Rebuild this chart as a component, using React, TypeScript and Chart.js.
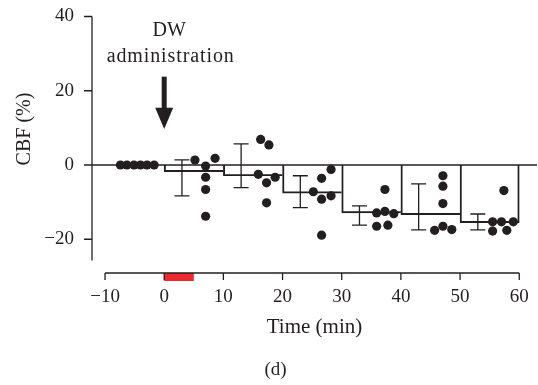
import { useEffect, useRef } from "react";
import { Chart, registerables } from "chart.js";

Chart.register(...registerables);

// ---- data ----
const xTicks = [-10, 0, 10, 20, 30, 40, 50, 60];
const yTicks = [-20, 0, 20, 40];

// baseline recordings before administration
const baselineTimes = [-7.4, -6.3, -5.1, -4.0, -2.9, -1.7];
const baselineValues = [0, 0, 0, 0, 0, 0];

// 10-min bins: open bars (mean)
const binStarts = [0, 10, 20, 30, 40, 50];
const binWidth = 10;
const binMeans = [-1.8, -2.9, -7.6, -12.9, -13.4, -15.5];

// error bars
const errTimes = [3, 13, 23, 33, 43, 53];
const errHigh = [1.4, 5.7, -2.9, -11.0, -5.1, -13.2];
const errLow = [-8.3, -6.1, -11.5, -16.2, -17.5, -17.5];

// individual animals per bin
const bin1Times = [5.2, 8.6, 7.0, 7.0, 7.0, 7.0];
const bin1Values = [1.35, 1.8, -0.3, -3.3, -6.6, -13.8];
const bin2Times = [16.3, 17.7, 15.9, 17.3, 18.75, 17.3];
const bin2Values = [6.9, 5.4, -2.5, -4.8, -3.3, -10.2];
const bin3Times = [28.2, 26.6, 25.2, 26.6, 28.2, 26.6];
const bin3Values = [-1.2, -3.6, -7.2, -9.2, -8.3, -18.9];
const bin4Times = [37.3, 35.9, 37.3, 38.8, 35.9, 37.8];
const bin4Values = [-6.6, -12.9, -12.5, -13.1, -16.5, -16.2];
const bin5Times = [47.1, 47.1, 47.1, 45.7, 47.1, 48.6];
const bin5Values = [-2.9, -5.7, -10.4, -17.6, -16.5, -17.4];
const bin6Times = [57.4, 55.5, 57.0, 59.0, 55.5, 57.9];
const bin6Values = [-6.9, -15.3, -15.3, -15.3, -17.8, -17.6];

// DW administration period (red bar) and arrow
const adminStart = 0;
const adminEnd = 5;
const arrowTime = 0;
const arrowTop = 23.8;
const arrowHeadStart = 15.4;
const arrowTip = 9.7;

// axis extents
const xMin = -12.2;
const xMax = 63.0;
const yMin = -29.09;
const yMax = 40;
const yAxisBottom = -25.7;

const INK = "#231f20";
const RED = "#ec2a2e";
const FONT = "'Liberation Serif', 'Times New Roman', serif";

const fmt = (v: number) => (v < 0 ? "\u2212" + Math.abs(v) : String(v));

const pairs = (xs: number[], ys: number[]) => xs.map((x, i) => ({ x, y: ys[i] }));

const zeroPad = (s: any) => {
  s.paddingTop = 0;
  s.paddingBottom = 0;
  s.paddingLeft = 0;
  s.paddingRight = 0;
};

const decorPlugin = {
  id: "decor",
  beforeDatasetsDraw(chart: any) {
    const { ctx, chartArea, scales } = chart;
    const xs = scales.x;
    const ys = scales.y;
    ctx.save();
    ctx.strokeStyle = INK;
    ctx.lineWidth = 1.3;
    // y axis
    const ax = chartArea.left;
    ctx.beginPath();
    ctx.moveTo(ax, ys.getPixelForValue(yMax));
    ctx.lineTo(ax, ys.getPixelForValue(yAxisBottom));
    for (const t of yTicks) {
      const py = ys.getPixelForValue(t);
      ctx.moveTo(ax - 8, py);
      ctx.lineTo(ax, py);
    }
    ctx.stroke();
    // zero line
    ctx.beginPath();
    ctx.moveTo(chartArea.left, ys.getPixelForValue(0));
    ctx.lineTo(chartArea.right, ys.getPixelForValue(0));
    ctx.stroke();
    // red administration bar
    const by = chartArea.bottom;
    ctx.fillStyle = RED;
    const rx0 = xs.getPixelForValue(adminStart);
    const rx1 = xs.getPixelForValue(adminEnd);
    ctx.fillRect(rx0, by, rx1 - rx0, 8);
    // x axis
    ctx.beginPath();
    ctx.moveTo(xs.getPixelForValue(xTicks[0]), by);
    ctx.lineTo(xs.getPixelForValue(xTicks[xTicks.length - 1]), by);
    for (const t of xTicks) {
      const px = xs.getPixelForValue(t);
      ctx.moveTo(px, by);
      ctx.lineTo(px, by + 7);
    }
    ctx.stroke();
    // error bars
    ctx.beginPath();
    errTimes.forEach((t, i) => {
      const px = xs.getPixelForValue(t);
      const hi = ys.getPixelForValue(errHigh[i]);
      const lo = ys.getPixelForValue(errLow[i]);
      ctx.moveTo(px, hi);
      ctx.lineTo(px, lo);
      ctx.moveTo(px - 7.5, hi);
      ctx.lineTo(px + 7.5, hi);
      ctx.moveTo(px - 7.5, lo);
      ctx.lineTo(px + 7.5, lo);
    });
    ctx.stroke();
    // arrow
    const axp = xs.getPixelForValue(arrowTime);
    const aTop = ys.getPixelForValue(arrowTop);
    const aHead = ys.getPixelForValue(arrowHeadStart);
    const aTip = ys.getPixelForValue(arrowTip);
    ctx.fillStyle = INK;
    ctx.fillRect(axp - 2.5, aTop, 5, aHead - aTop + 1);
    ctx.beginPath();
    ctx.moveTo(axp - 9, aHead);
    ctx.lineTo(axp + 9, aHead);
    ctx.lineTo(axp, aTip);
    ctx.closePath();
    ctx.fill();
    // annotation text
    ctx.fillStyle = INK;
    ctx.textAlign = "center";
    ctx.textBaseline = "middle";
    ctx.font = `20px ${FONT}`;
    ctx.fillText("DW", axp + 5, 31);
    (ctx as any).letterSpacing = "0.9px";
    ctx.fillText("administration", axp + 6.5, 57);
    (ctx as any).letterSpacing = "0px";
    // y axis title
    ctx.translate(25, 129);
    ctx.rotate(-Math.PI / 2);
    ctx.fillText("CBF (%)", 0, 0);
    ctx.restore();
  },
};

export default function App() {
  const ref = useRef<HTMLCanvasElement | null>(null);
  useEffect(() => {
    document.body.style.margin = "0";
    const canvas = ref.current;
    if (!canvas) return;
    const points = [
      ...pairs(baselineTimes, baselineValues),
      ...pairs(bin1Times, bin1Values),
      ...pairs(bin2Times, bin2Values),
      ...pairs(bin3Times, bin3Values),
      ...pairs(bin4Times, bin4Values),
      ...pairs(bin5Times, bin5Values),
      ...pairs(bin6Times, bin6Values),
    ];
    const lastBar = binStarts.length - 1;
    const chart = new Chart(canvas, {
      type: "scatter",
      data: {
        datasets: [
          {
            type: "bar",
            label: "Mean",
            data: binStarts.map((s, i) => ({ x: s + binWidth / 2, y: binMeans[i] })),
            backgroundColor: "rgba(255,255,255,0)",
            borderColor: INK,
            borderWidth: (c: any) => ({
              top: 0,
              left: 1.3,
              bottom: 1.3,
              right: c.dataIndex === lastBar ? 1.3 : 0,
            }),
            borderSkipped: false,
            barPercentage: 1,
            categoryPercentage: 1,
            order: 3,
          } as any,
          {
            type: "scatter",
            label: "CBF",
            data: points,
            pointRadius: 4.6,
            pointBackgroundColor: INK,
            pointBorderWidth: 0,
            pointBorderColor: INK,
            order: 1,
          },
        ],
      },
      options: {
        animation: false,
        responsive: false,
        events: [],
        layout: { autoPadding: false, padding: { top: 16.5, left: 14, right: 1, bottom: 0 } },
        plugins: {
          legend: { display: false },
          tooltip: { enabled: false },
          title: {
            display: true,
            text: "(d)",
            position: "bottom",
            color: INK,
            font: { family: FONT, size: 19, weight: "normal" },
            padding: { top: 0, bottom: 4 },
          },
        },
        scales: {
          x: {
            type: "linear",
            min: xMin,
            max: xMax,
            offset: false,
            grid: { display: false, drawTicks: false },
            border: { display: false },
            afterBuildTicks: (s: any) => {
              s.ticks = xTicks.map((v) => ({ value: v }));
            },
            afterFit: (s: any) => {
              s.height = 85.2;
              zeroPad(s);
            },
            ticks: {
              autoSkip: false,
              maxRotation: 0,
              padding: 13,
              color: INK,
              font: { family: FONT, size: 19 },
              callback: (v: any) => fmt(Number(v)),
            },
            title: {
              display: true,
              text: "Time (min)",
              color: INK,
              font: { family: FONT, size: 21 },
              padding: { top: 0, bottom: 18.5 },
            },
          },
          y: {
            type: "linear",
            min: yMin,
            max: yMax,
            grid: { display: false, drawTicks: false },
            border: { display: false },
            afterBuildTicks: (s: any) => {
              s.ticks = yTicks.map((v) => ({ value: v }));
            },
            afterFit: (s: any) => {
              s.width = 78;
              zeroPad(s);
            },
            ticks: {
              padding: 18,
              color: INK,
              font: { family: FONT, size: 19 },
              callback: (v: any) => fmt(Number(v)),
            },
          },
        },
      } as any,
      plugins: [decorPlugin],
    });
    return () => chart.destroy();
  }, []);
  return <canvas ref={ref} width={538} height={385} style={{ display: "block" }} />;
}
